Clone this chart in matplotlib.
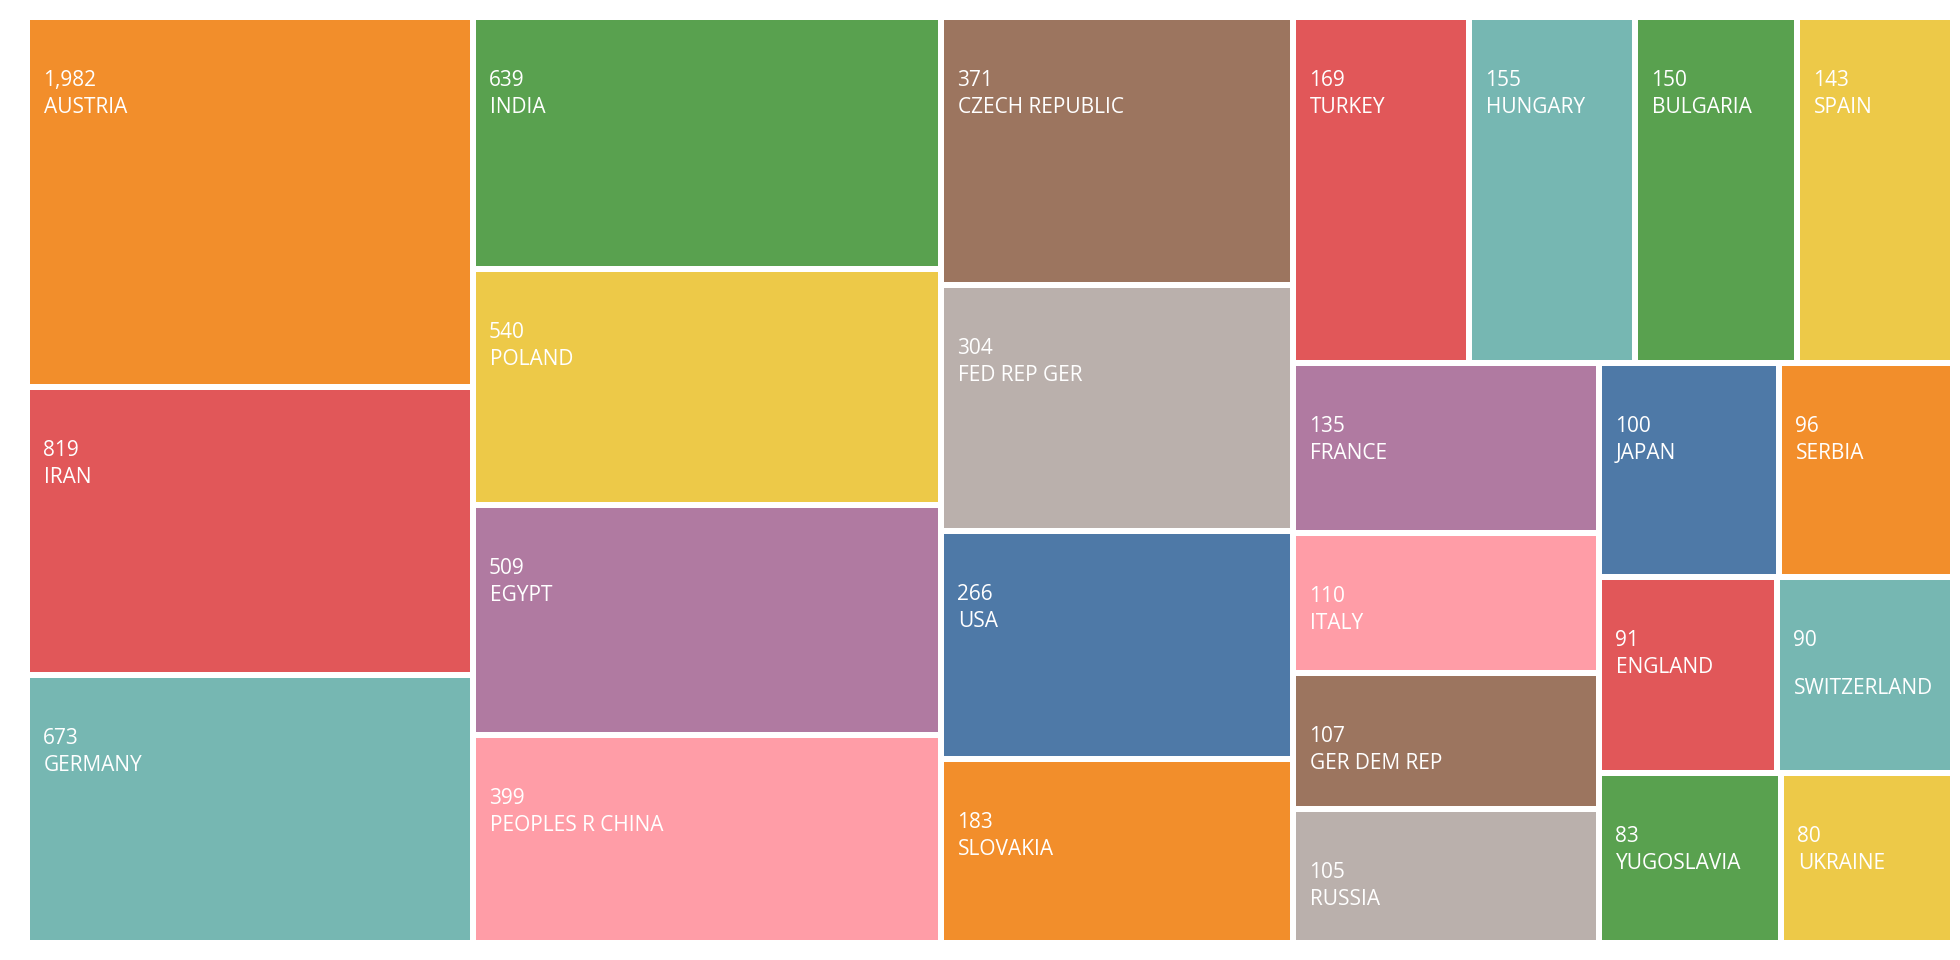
import matplotlib.pyplot as plt
from matplotlib.patches import Rectangle

# countries and their counts (label values)
countries = ['AUSTRIA', 'IRAN', 'GERMANY', 'INDIA', 'POLAND', 'EGYPT', 'PEOPLES R CHINA',
             'CZECH REPUBLIC', 'FED REP GER', 'USA', 'SLOVAKIA', 'TURKEY', 'HUNGARY',
             'BULGARIA', 'SPAIN', 'FRANCE', 'ITALY', 'GER DEM REP', 'RUSSIA', 'JAPAN',
             'SERBIA', 'ENGLAND', 'SWITZERLAND', 'YUGOSLAVIA', 'UKRAINE']
counts = [1982, 819, 673, 639, 540, 509, 399, 371, 304, 266, 183, 169, 155, 150, 143,
          135, 110, 107, 105, 100, 96, 91, 90, 83, 80]
# tile size measure (area of each tile, in thousands)
tile_size = [165.0, 128.4, 119.5, 117.9, 110.4, 107.6, 97.3, 94.3, 86.6, 80.3, 64.8,
             60.9, 57.4, 56.1, 54.0, 52.0, 42.8, 41.6, 41.0, 38.5, 37.2, 34.9, 34.5,
             30.9, 29.2]

# nesting of the tiles, split direction alternates by depth (x first)
groups = [[0, 1, 2], [3, 4, 5, 6], [7, 8, 9, 10],
          [[11, 12, 13, 14],
           [[15, 16, 17, 18], [[19, 20], [21, 22], [23, 24]]]]]

palette = ['#4E79A7', '#F28E2B', '#E15759', '#76B7B2', '#59A14F',
           '#EDC948', '#B07AA1', '#FF9DA7', '#9C755F', '#BAB0AC']

W, H = 1960, 960
x0, y0, x1, y1 = 27, 17, 1953, 943
gap = 6


def total(node):
    if isinstance(node, list):
        return sum(total(n) for n in node)
    return tile_size[node]


def layout(node, x, y, w, h, depth, out):
    if not isinstance(node, list):
        out[node] = (x, y, w, h)
        return
    s = total(node)
    pos = 0.0
    for child in node:
        f = total(child) / s
        if depth % 2 == 0:
            layout(child, x + pos * w, y, f * w, h, depth + 1, out)
        else:
            layout(child, x, y + pos * h, w, f * h, depth + 1, out)
        pos += f


rects = {}
layout(groups, x0, y0, x1 - x0, y1 - y0, 0, rects)

fig = plt.figure(figsize=(W / 100, H / 100), dpi=100)
ax = fig.add_axes([0, 0, 1, 1])
ax.set_xlim(0, W)
ax.set_ylim(H, 0)
ax.axis('off')

for i, name in enumerate(countries):
    x, y, w, h = rects[i]
    ax.add_patch(Rectangle((x + gap / 2, y + gap / 2), w - gap, h - gap,
                           facecolor=palette[(i + 1) % 10], edgecolor='none'))
    tx = x + gap / 2 + 13
    ty = y + gap / 2 + 66
    ax.text(tx, ty, f'{counts[i]:,}', color='white', fontsize=15,
            family='Open Sans', va='baseline', ha='left')
    # the long name in the narrow tile was pushed down a line
    extra = 21 if name == 'SWITZERLAND' else 0
    ax.text(tx + 1, ty + 27 + extra, name, color='white', fontsize=15,
            family='Open Sans', va='baseline', ha='left')

fig.savefig('out.png', dpi=100)
